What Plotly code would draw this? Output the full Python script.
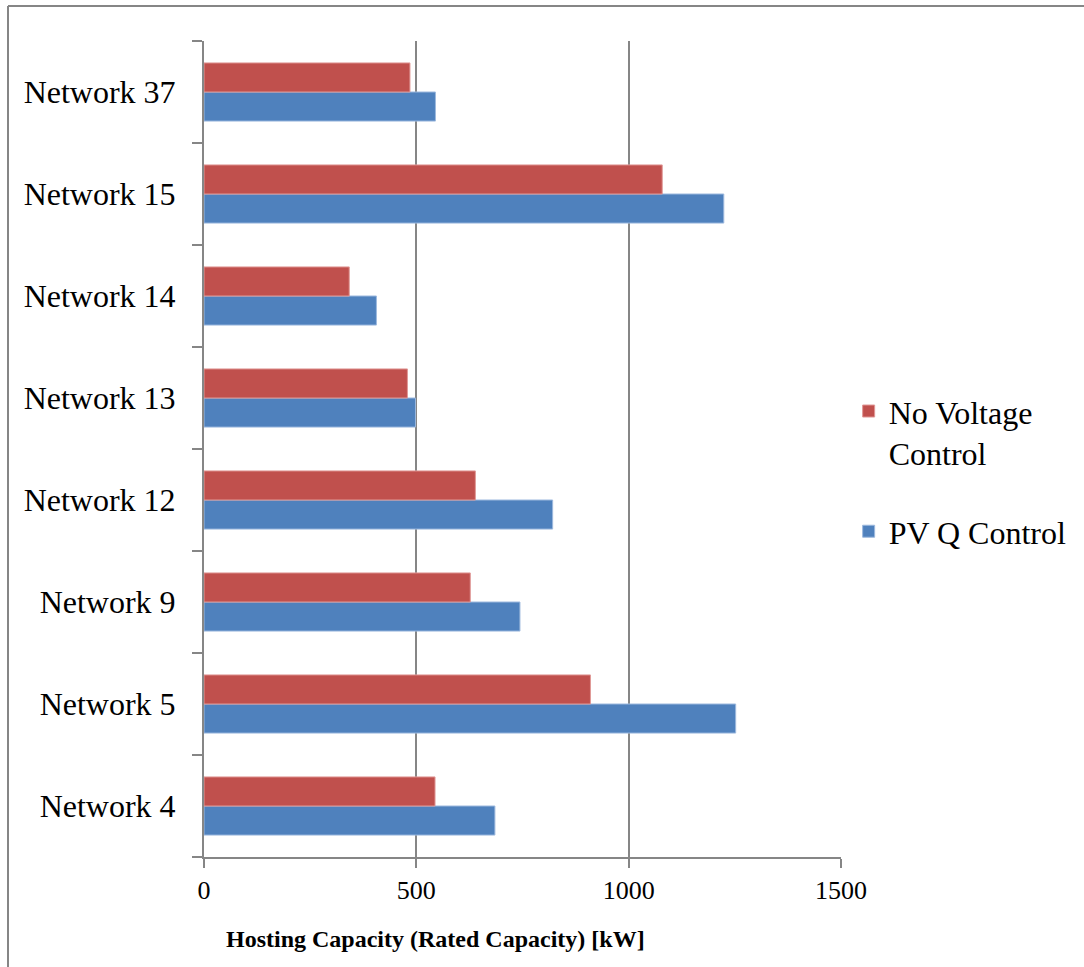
import plotly.graph_objects as go

categories = ["Network 4", "Network 5", "Network 9", "Network 12",
              "Network 13", "Network 14", "Network 15", "Network 37"]
pv_q_control = [685, 1252, 744, 821, 498, 406, 1224, 545]
no_voltage_control = [544, 910, 627, 639, 479, 342, 1079, 485]
x_ticks = [0, 500, 1000, 1500]

GRID = "#868686"
FONT = "Liberation Serif"

fig = go.Figure()
fig.add_trace(go.Bar(
    y=categories, x=pv_q_control, orientation="h", name="PV Q Control",
    marker=dict(color="#4F81BD", line=dict(color="#9DB9DE", width=1)),
    legendgroup="b", legendrank=2,
))
fig.add_trace(go.Bar(
    y=categories, x=no_voltage_control, orientation="h", name="No Voltage<br>Control",
    marker=dict(color="#C0504D", line=dict(color="#E09896", width=1)),
    legendgroup="a", legendrank=1,
))

fig.update_layout(
    width=1084, height=967,
    margin=dict(l=204, r=243, t=41, b=110),
    paper_bgcolor="white", plot_bgcolor="white",
    barmode="group", bargap=0.43, bargroupgap=0,
    font=dict(family=FONT, color="black"),
    showlegend=True,
    legend=dict(
        x=1.012, y=0.58, xanchor="left", yanchor="top",
        traceorder="grouped", tracegroupgap=34,
        font=dict(family=FONT, size=32, color="black"),
        valign="top", bgcolor="rgba(0,0,0,0)",
    ),
    xaxis=dict(
        range=[0, 1500], tickvals=x_ticks, ticktext=[str(v) for v in x_ticks],
        showgrid=True, gridcolor=GRID, gridwidth=1.5,
        showline=True, linecolor=GRID, linewidth=2,
        ticks="outside", ticklen=9, tickcolor=GRID, tickwidth=2,
        tickfont=dict(family=FONT, size=26, color="black"),
        zeroline=False,
    ),
    yaxis=dict(
        type="category", categoryorder="array", categoryarray=categories,
        tickson="boundaries", ticks="outside", ticklen=10, tickcolor=GRID, tickwidth=2,
        showline=True, linecolor=GRID, linewidth=2,
        showgrid=False, zeroline=False,
        tickfont=dict(family=FONT, size=32, color="black"),
        ticklabelstandoff=20,
    ),
    annotations=[
        dict(text="<b>Hosting Capacity (Rated Capacity) [kW]</b>",
             xref="paper", yref="paper", x=(435 - 204) / 637, y=-(940 - 857.5) / 816.5,
             xanchor="center", yanchor="middle", showarrow=False,
             font=dict(family=FONT, size=24, color="black")),
    ],
    shapes=[
        dict(type="line", xref="paper", yref="paper",
             x0=-196/637, x1=(1090-204)/637, y0=1 + 35/816.5, y1=1 + 35/816.5,
             line=dict(color=GRID, width=2)),
        dict(type="line", xref="paper", yref="paper",
             x0=-196/637, x1=-196/637, y0=1 + 35/816.5, y1=-120/816.5,
             line=dict(color=GRID, width=2)),
    ],
)

fig.write_html("out.html", config={"displayModeBar": False},
               post_script="document.body.style.margin='0';")
